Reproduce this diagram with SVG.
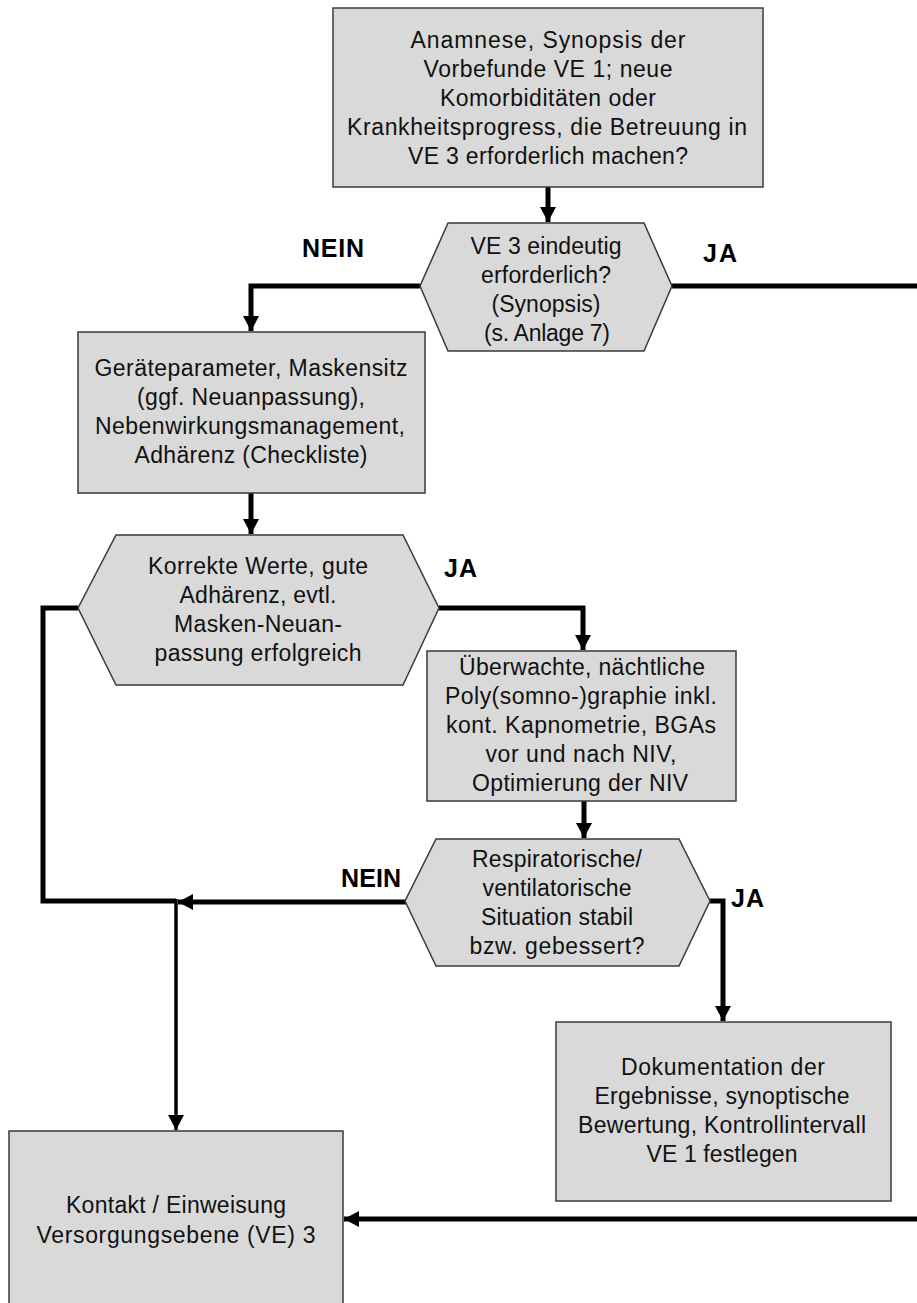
<svg xmlns="http://www.w3.org/2000/svg" width="917" height="1303" viewBox="0 0 917 1303">
<defs>
<style>
.box{fill:#d9d9d9;stroke:#3a3a3a;stroke-width:1.5}
.t{font-family:"Liberation Sans",Arial,sans-serif;font-size:23px;fill:#111;text-anchor:middle}
.lbl{font-family:"Liberation Sans",Arial,sans-serif;font-size:25px;font-weight:bold;fill:#000}
.c{fill:none;stroke:#000;stroke-width:5;stroke-linejoin:miter}
.c3{fill:none;stroke:#000;stroke-width:3.5}
</style>
<marker id="ah" markerUnits="userSpaceOnUse" markerWidth="16" markerHeight="16" refX="15" refY="8" orient="auto">
<path d="M0,0 L15,8 L0,16 Z" fill="#000"/>
</marker>
</defs>
<rect width="917" height="1303" fill="#fff"/>

<g id="connectors">
<path class="c" d="M548,187 V222" marker-end="url(#ah)"/>
<path class="c" d="M420,286 H251 V331" marker-end="url(#ah)"/>
<path class="c" d="M672,286 H920"/>
<path class="c" d="M251,493 V534" marker-end="url(#ah)"/>
<path class="c" d="M78,608 H43 V901 H176"/>
<path class="c" d="M439,608 H583 V650" marker-end="url(#ah)"/>
<path class="c" d="M584,801 V838" marker-end="url(#ah)"/>
<path class="c" d="M406,902 H178" marker-end="url(#ah)"/>
<path class="c3" d="M176,899 V1130" marker-end="url(#ah)"/>
<path class="c" d="M710,901 H723 V1021" marker-end="url(#ah)"/>
<path class="c" d="M920,1219 H344" marker-end="url(#ah)"/>
</g>

<g id="labels">
<text class="lbl" x="302" y="257" textLength="62">NEIN</text>
<text class="lbl" x="703" y="262" textLength="34">JA</text>
<text class="lbl" x="444" y="577" textLength="33">JA</text>
<text class="lbl" x="341" y="887" textLength="60">NEIN</text>
<text class="lbl" x="731" y="907" textLength="33">JA</text>
</g>

<g id="n1">
<rect class="box" x="333" y="8" width="430" height="179"/>
<text class="t" x="548" y="48" textLength="275">Anamnese, Synopsis der</text>
<text class="t" x="548" y="77" textLength="249">Vorbefunde VE 1; neue</text>
<text class="t" x="548" y="106" textLength="216">Komorbiditäten oder</text>
<text class="t" x="547" y="135" textLength="400">Krankheitsprogress, die Betreuung in</text>
<text class="t" x="548" y="164" textLength="280">VE 3 erforderlich machen?</text>
</g>

<g id="d1">
<polygon class="box" points="448,223 644,223 672,286 644,351 448,351 420,286"/>
<text class="t" x="546" y="254" textLength="151">VE 3 eindeutig</text>
<text class="t" x="546" y="283" textLength="130">erforderlich?</text>
<text class="t" x="546" y="312" textLength="109">(Synopsis)</text>
<text class="t" x="547" y="341" textLength="126">(s. Anlage 7)</text>
</g>

<g id="n2">
<rect class="box" x="78" y="332" width="347" height="161"/>
<text class="t" x="251" y="376" textLength="313">Geräteparameter, Maskensitz</text>
<text class="t" x="251" y="405" textLength="228">(ggf. Neuanpassung),</text>
<text class="t" x="250" y="434" textLength="310">Nebenwirkungsmanagement,</text>
<text class="t" x="251" y="463" textLength="233">Adhärenz (Checkliste)</text>
</g>

<g id="d2">
<polygon class="box" points="116,535 403,535 439,608 403,685 116,685 78,608"/>
<text class="t" x="258" y="574" textLength="220">Korrekte Werte, gute</text>
<text class="t" x="258" y="603" textLength="157">Adhärenz, evtl.</text>
<text class="t" x="258" y="632" textLength="168">Masken-Neuan-</text>
<text class="t" x="258" y="661" textLength="207">passung erfolgreich</text>
</g>

<g id="n3">
<rect class="box" x="427" y="651" width="309" height="150"/>
<text class="t" x="582" y="675" textLength="246">Überwachte, nächtliche</text>
<text class="t" x="581" y="704" textLength="272">Poly(somno-)graphie inkl.</text>
<text class="t" x="581" y="733" textLength="270">kont. Kapnometrie, BGAs</text>
<text class="t" x="581" y="762" textLength="191">vor und nach NIV,</text>
<text class="t" x="580" y="791" textLength="216">Optimierung der NIV</text>
</g>

<g id="d3">
<polygon class="box" points="436,839 679,839 710,901 679,966 436,966 405,901"/>
<text class="t" x="557" y="867" textLength="170">Respiratorische/</text>
<text class="t" x="557" y="896" textLength="149">ventilatorische</text>
<text class="t" x="557" y="925" textLength="152">Situation stabil</text>
<text class="t" x="557" y="954" textLength="175">bzw. gebessert?</text>
</g>

<g id="n4">
<rect class="box" x="556" y="1022" width="335" height="179"/>
<text class="t" x="723" y="1075" textLength="204">Dokumentation der</text>
<text class="t" x="722" y="1104" textLength="255">Ergebnisse, synoptische</text>
<text class="t" x="722" y="1133" textLength="288">Bewertung, Kontrollintervall</text>
<text class="t" x="722" y="1162" textLength="151">VE 1 festlegen</text>
</g>

<g id="n5">
<rect class="box" x="9" y="1131" width="334" height="185"/>
<text class="t" x="176" y="1213" textLength="220">Kontakt / Einweisung</text>
<text class="t" x="176" y="1243" textLength="279">Versorgungsebene (VE) 3</text>
</g>
</svg>
